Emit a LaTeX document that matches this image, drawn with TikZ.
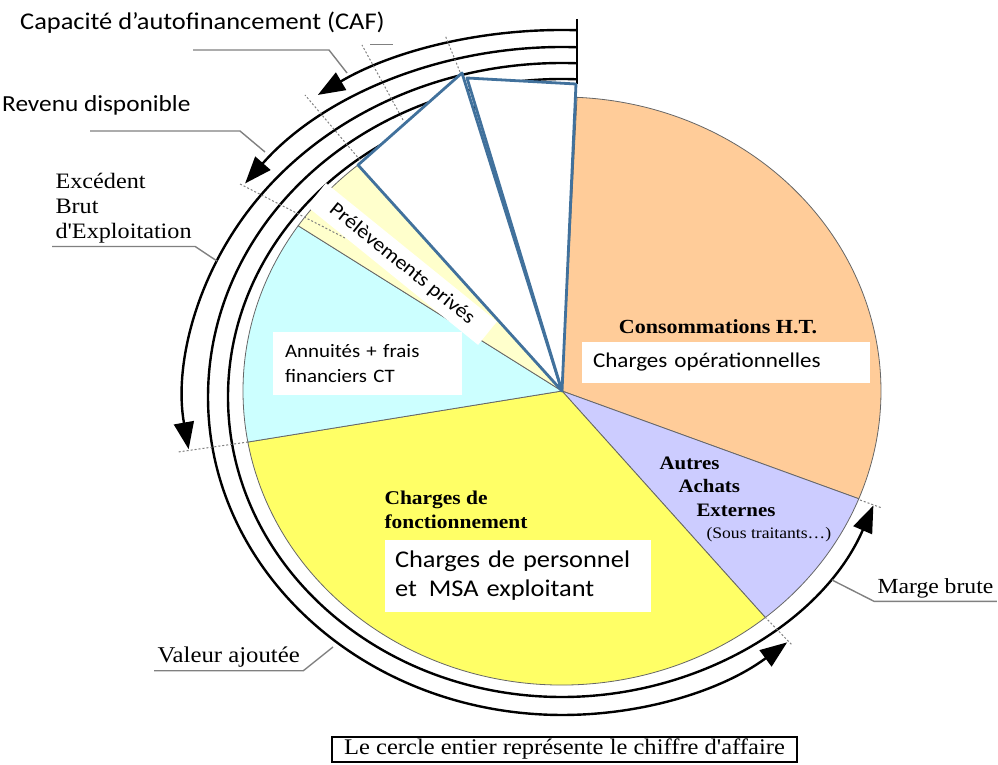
\documentclass[tikz,border=0pt]{standalone}
\usepackage{fontspec}
\setmainfont[FakeStretch=1.1]{Liberation Serif}
\newfontfamily\tms[FakeStretch=1.1]{Liberation Serif}
\newfontfamily\calib[FakeStretch=1.1]{Carlito}
\usetikzlibrary{arrows.meta}
\definecolor{peach}{RGB}{255,204,153}
\definecolor{lavender}{RGB}{204,204,255}
\definecolor{canary}{RGB}{255,255,102}
\definecolor{iceblue}{RGB}{204,255,255}
\definecolor{cream}{RGB}{255,255,204}
\definecolor{steel}{RGB}{65,113,156}

\begin{document}
\begin{tikzpicture}[x=1pt, y=1pt,
    slice/.style={draw=black!60, line width=0.8pt},
    ring/.style={line width=2.4pt, -{Triangle[length=27pt, width=20pt]}},
    lead/.style={draw=black!50, line width=1.4pt},
    tick/.style={draw=black!50, line width=1pt, dash pattern=on 2pt off 2pt},
    wedge/.style={draw=steel, fill=white, line width=2.8pt, line join=round},
    boxed/.style={fill=white, inner xsep=11pt, align=left}]
\useasboundingbox (0,0) rectangle (998,765);
\coordinate (c) at (562,374);
\coordinate (o) at (562,368);
% slices of the turnover
\filldraw[slice, fill=peach] (c) -- ++(-21.5:319pt and 294pt) arc[start angle=-21.5, end angle=87.3, x radius=319pt, y radius=294pt] -- cycle;
\filldraw[slice, fill=lavender] (c) -- ++(-50.4:319pt and 294pt) arc[start angle=-50.4, end angle=-21.5, x radius=319pt, y radius=294pt] -- cycle;
\filldraw[slice, fill=canary] (c) -- ++(190:319pt and 294pt) arc[start angle=190, end angle=309.6, x radius=319pt, y radius=294pt] -- cycle;
\filldraw[slice, fill=iceblue] (c) -- ++(145.8:319pt and 294pt) arc[start angle=145.8, end angle=190, x radius=319pt, y radius=294pt] -- cycle;
\filldraw[slice, fill=cream] (c) -- ++(129.7:319pt and 294pt) arc[start angle=129.7, end angle=145.8, x radius=319pt, y radius=294pt] -- cycle;
% balances around the pie
\foreach \rx/\ry/\a/\b in {334/300/91/338.8, 354/318/87.6/309.5, 378/334/87.7/189, 400/350/87.9/142.4, 430/367/88/124.6}
  \draw[ring] (o) ++(\a:\rx pt and \ry pt) arc[start angle=\a, end angle=\b, x radius=\rx pt, y radius=\ry pt];
\draw[line width=1.4pt] (577,746) -- (577,681);
\filldraw[wedge] (c) -- (358,600) -- (462,692) -- cycle;
\filldraw[wedge] (c) -- (467,687) -- (576,681) -- cycle;
\draw[tick] (860,265) -- (882,257);
\draw[tick] (765,148) -- (792,120);
\draw[tick] (248,323) -- (178,313);
\draw[tick] (345,527) -- (240,581);
\draw[tick] (360,605) -- (305,670);
\draw[tick] (403,645) -- (362,720);
\draw[tick] (460,693) -- (445,730);
\draw[draw=black!50, line width=1pt] (370,720) -- (393,720);
% labels
\node[anchor=base west, inner sep=0pt, font=\calib\fontsize{24}{28}\selectfont] (caf) at (20,735) {Capacité d’autofinancement (CAF)};
\node[anchor=base west, inner sep=0pt, font=\calib\fontsize{23}{27}\selectfont] (rd) at (2,653) {Revenu disponible};
\node[anchor=west, align=left, font=\tms\fontsize{22}{25}\selectfont] (ebe) at (52,557) {Excédent\\Brut\\d'Exploitation};
\node[anchor=west, font=\tms\fontsize{21.5}{25}\selectfont] (mb) at (874,177) {Marge brute};
\node[anchor=west, font=\tms\fontsize{22.5}{26}\selectfont] (va) at (154,108) {Valeur ajoutée};
\coordinate (cafa) at (193,715);
\coordinate (cafb) at (329,715);
\coordinate (cafend) at (347,692);
\coordinate (rda) at (90,634);
\coordinate (rdb) at (240,634);
\coordinate (rdend) at (265,613);
\coordinate (ebeend) at (217,504);
\coordinate (mbend) at (832,185);
\coordinate (vaend) at (333,118);
\draw[lead] (cafa) -- (cafb) -- (cafend);
\draw[lead] (rda) -- (rdb) -- (rdend);
\draw[lead] (ebe.south west) -- (ebe.south east) -- (ebeend);
\draw[lead] (mb.south east) -- (mb.south west) -- (mbend);
\draw[lead] (va.south west) -- (va.south east) -- (vaend);
\node[font=\tms\bfseries\fontsize{20}{24}\selectfont] (conso) at (718,438) {Consommations H.T.};
\node[boxed, text width=266pt, minimum height=41pt, font=\calib\fontsize{21}{25}\selectfont] (charop) at (726,402.5) {Charges opérationnelles};
\node[anchor=west, font=\tms\bfseries\fontsize{19}{23}\selectfont] (autres) at (656,302) {Autres};
\node[anchor=west, font=\tms\bfseries\fontsize{19}{23}\selectfont] (achats) at (675,279) {Achats};
\node[anchor=west, font=\tms\bfseries\fontsize{19}{23}\selectfont] (externes) at (693,255) {Externes};
\node[anchor=west, font=\tms\fontsize{16}{20}\selectfont] (sous) at (703,230) {(Sous traitants…)};
\node[anchor=west, align=left, font=\tms\bfseries\fontsize{19.5}{24}\selectfont] (fonct) at (381,255) {Charges de\\fonctionnement};
\node[boxed, inner xsep=10pt, text width=246pt, minimum height=72pt, font=\calib\fontsize{24}{29}\selectfont] (perso) at (518,189) {Charges de personnel\\et\, MSA exploitant};
\node[boxed, inner xsep=12pt, text width=165pt, minimum height=63pt, font=\calib\fontsize{19}{25}\selectfont] (annuites) at (367.5,401.5) {Annuités + frais\\financiers CT};
\node[fill=white, rotate=-39, minimum width=220pt, minimum height=30pt, inner sep=0pt, font=\calib\fontsize{20}{24}\selectfont] (prelev) at (402,501) {Prélèvements privés};
\node[draw, line width=1.2pt, minimum width=465pt, minimum height=25pt, inner sep=0pt, font=\tms\fontsize{22.3}{25}\selectfont] (ca) at (564.5,15.5) {Le cercle entier représente le chiffre d'affaire};
\end{tikzpicture}
\end{document}
